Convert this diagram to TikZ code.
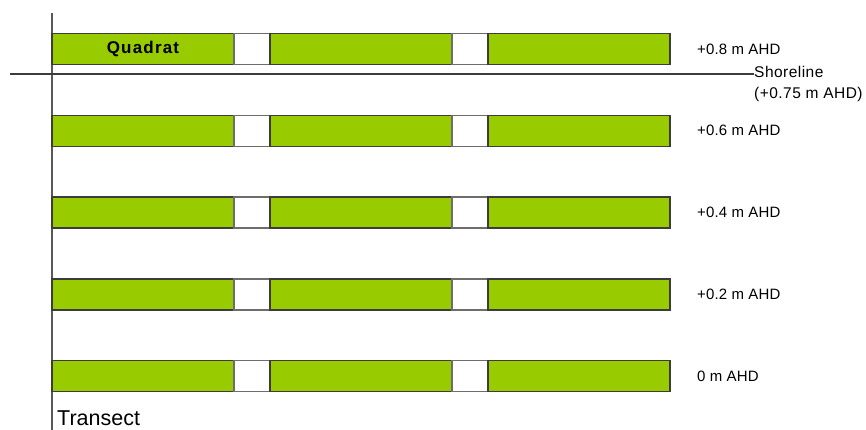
\documentclass[tikz,border=0pt]{standalone}
\usepackage{fontspec}
\setmainfont{Liberation Sans}
\newfontfamily\lblfont[LetterSpace=1]{Liberation Sans}
\newfontfamily\shorefont[LetterSpace=3]{Liberation Sans}
\newfontfamily\quadfont[LetterSpace=7]{Liberation Sans}
\usepackage{tikz}
\usetikzlibrary{positioning}
\definecolor{QuadGreen}{RGB}{153,204,0}
\definecolor{EdgeGrey}{RGB}{60,60,60}

\begin{document}
\begin{tikzpicture}[
    x=1pt, y=-1pt,
    node distance=50.8pt and 0pt,
    quad/.style={rectangle, draw=EdgeGrey, fill=QuadGreen, line width=1.4pt,
                 minimum width=182pt, minimum height=31pt, inner sep=0pt, outer sep=0pt},
    gapbox/.style={rectangle, draw=EdgeGrey!75, fill=white, line width=1.4pt,
                 minimum width=36pt, minimum height=31pt, inner sep=0pt, outer sep=0pt},
    lvl/.style={anchor=west, inner sep=0pt, font=\fontsize{15}{17}\lblfont},
    axisline/.style={line width=1.3pt, EdgeGrey}
]
\useasboundingbox (0,0) rectangle (866,430);
% transect
\coordinate (ttop) at (52,13);
\coordinate (tbot) at (52,430);
\draw[axisline, EdgeGrey!85] (ttop)--(tbot);
\node[anchor=base west, inner sep=0pt, font=\fontsize{21.5}{24}\selectfont] (trans) at (57,425) {Transect};
% rows of quadrats
\node[quad, anchor=west] (a1) at (52,49) {\fontsize{17}{19}\quadfont\bfseries Quadrat};
\node[gapbox, right=of a1] (a2) {};
\node[quad, right=of a2] (a3) {};
\node[gapbox, right=of a3] (a4) {};
\node[quad, right=of a4] (a5) {};
\node[lvl, right=27pt of a5] (la) {+0.8 m AHD};
\node[quad, below=of a1] (b1) {};
\node[gapbox, right=of b1] (b2) {};
\node[quad, right=of b2] (b3) {};
\node[gapbox, right=of b3] (b4) {};
\node[quad, right=of b4] (b5) {};
\node[lvl, right=27pt of b5] (lb) {+0.6 m AHD};
\node[quad, below=of b1] (c1) {};
\node[gapbox, right=of c1] (c2) {};
\node[quad, right=of c2] (c3) {};
\node[gapbox, right=of c3] (c4) {};
\node[quad, right=of c4] (c5) {};
\node[lvl, right=27pt of c5] (lc) {+0.4 m AHD};
\node[quad, below=of c1] (d1) {};
\node[gapbox, right=of d1] (d2) {};
\node[quad, right=of d2] (d3) {};
\node[gapbox, right=of d3] (d4) {};
\node[quad, right=of d4] (d5) {};
\node[lvl, right=27pt of d5] (ld) {+0.2 m AHD};
\node[quad, below=of d1] (e1) {};
\node[gapbox, right=of e1] (e2) {};
\node[quad, right=of e2] (e3) {};
\node[gapbox, right=of e3] (e4) {};
\node[quad, right=of e4] (e5) {};
\node[lvl, right=27pt of e5] (le) {0 m AHD};
% shoreline
\node[anchor=north west, align=left, inner sep=0pt, font=\fontsize{15.5}{21}\shorefont] (shore) at (754,66) {Shoreline\\(+0.75 m AHD)};
\coordinate (sw) at (10,74);
\draw[axisline, line width=1.1pt] (sw)--(sw -| shore.west);
\end{tikzpicture}
\end{document}
